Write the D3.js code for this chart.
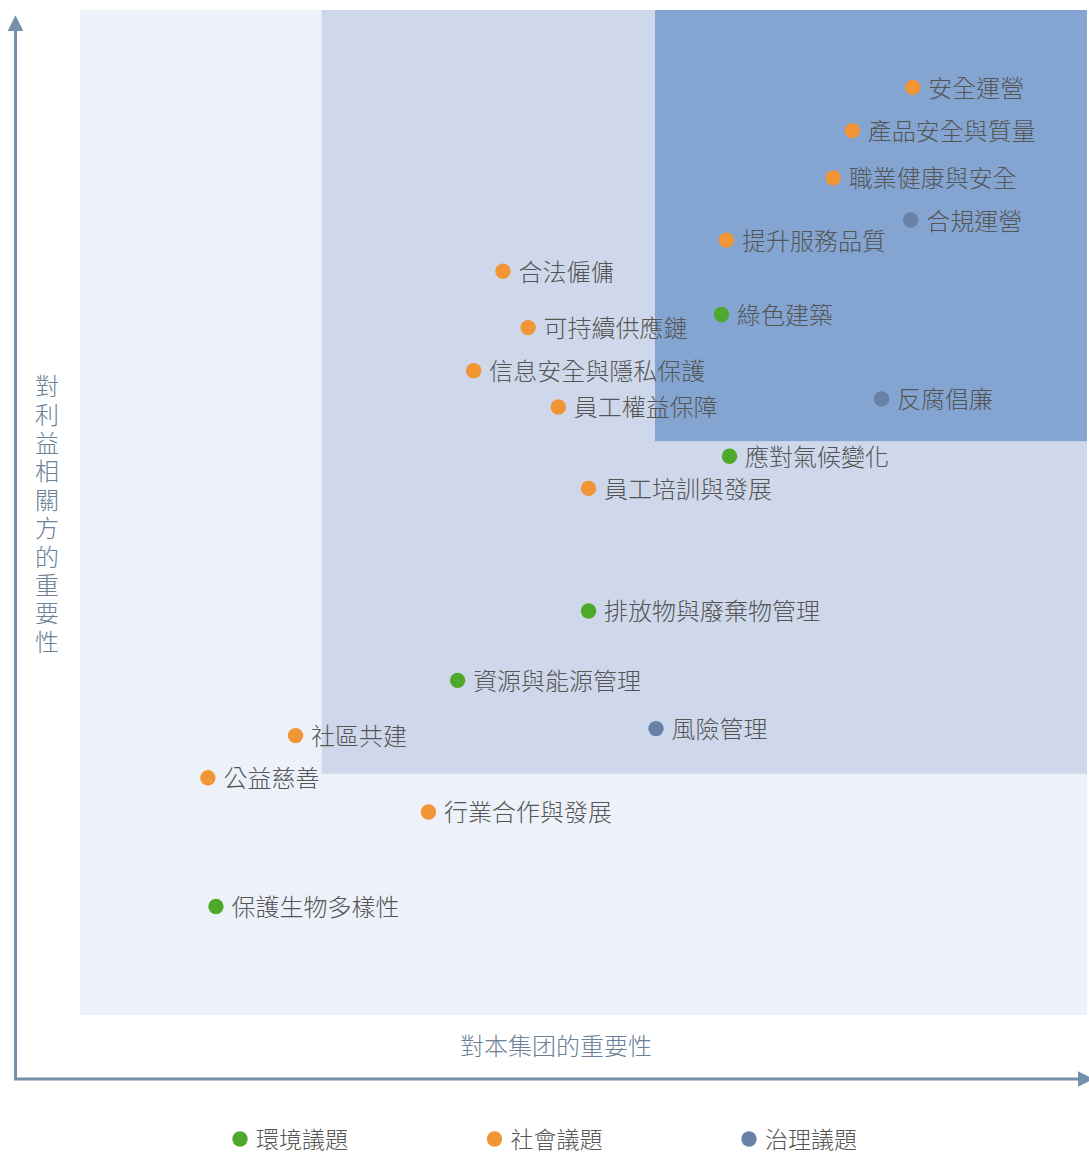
<!DOCTYPE html>
<html>
<head>
<meta charset="utf-8">
<script src="https://cdn.jsdelivr.net/npm/d3@7/dist/d3.min.js"></script>
<style>
  html, body { margin: 0; padding: 0; background: #ffffff; }
  svg { display: block; }
  text { font-family: "Noto Sans CJK TC", "Noto Sans CJK SC", sans-serif; font-weight: 300; }
</style>
</head>
<body>
<svg id="chart" width="1089" height="1154"></svg>
<script>
// ---- data ----
const issues = ["安全運營","產品安全與質量","職業健康與安全","合規運營","提升服務品質","合法僱傭","綠色建築","可持續供應鏈","信息安全與隱私保護","反腐倡廉","員工權益保障","應對氣候變化","員工培訓與發展","排放物與廢棄物管理","資源與能源管理","風險管理","社區共建","公益慈善","行業合作與發展","保護生物多樣性"];
const groupImportance = [82.7, 76.7, 74.8, 82.5, 64.2, 42.0, 63.7, 44.5, 39.1, 79.6, 47.5, 64.5, 50.5, 50.5, 37.5, 57.2, 21.4, 12.7, 34.6, 13.5];
const stakeholderImportance = [92.3, 88.0, 83.3, 79.1, 77.1, 74.0, 69.7, 68.4, 64.1, 61.3, 60.5, 55.6, 52.4, 40.2, 33.3, 28.5, 27.8, 23.6, 20.2, 10.8];
const issueCategory = ["社會","社會","社會","治理","社會","社會","環境","社會","社會","治理","社會","環境","社會","環境","環境","治理","社會","社會","社會","環境"];
const categories = ["環境","社會","治理"];
const legendLabels = ["環境議題","社會議題","治理議題"];
const zoneStart = [0, 24, 57.1];
const xTitle = "對本集团的重要性";
const yTitle = "對利益相關方的重要性";

// ---- styles ----
const catColor = d3.scaleOrdinal().domain(categories).range(["#4ea82b", "#f29535", "#6781a7"]);
const zoneColor = ["#edf2fa", "#cfd8eb", "#84a5d1"];
const axisColor = "#7590aa";
const fs = 24;

const svg = d3.select("#chart");
const x = d3.scaleLinear().domain([0, 100]).range([80, 1087]);
const y = d3.scaleLinear().domain([0, 100]).range([1015, 10]);

// zones
svg.append("g").selectAll("rect").data(zoneStart).join("rect")
  .attr("x", d => x(d)).attr("y", y(100))
  .attr("width", d => x(100) - x(d)).attr("height", d => y(d) - y(100))
  .attr("fill", (d, i) => zoneColor[i]);

// axes
const defs = svg.append("defs");
defs.append("marker").attr("id", "arr").attr("viewBox", "0 0 10 10")
  .attr("refX", 2).attr("refY", 5).attr("markerWidth", 5.3).attr("markerHeight", 5.3)
  .attr("markerUnits", "strokeWidth").attr("orient", "auto")
  .append("path").attr("d", "M0,0 L10,5 L0,10 Z").attr("fill", axisColor);

svg.append("line").attr("x1", 15.5).attr("y1", 1079).attr("x2", 15.5).attr("y2", 28)
  .attr("stroke", axisColor).attr("stroke-width", 3).attr("marker-end", "url(#arr)");
svg.append("line").attr("x1", 14).attr("y1", 1079).attr("x2", 1081).attr("y2", 1079)
  .attr("stroke", axisColor).attr("stroke-width", 3).attr("marker-end", "url(#arr)");

// axis titles
svg.append("text").attr("x", 556).attr("y", 1044)
  .attr("text-anchor", "middle").attr("dominant-baseline", "central")
  .attr("font-size", fs).attr("fill", "#6b8197").text(xTitle);
svg.append("text").attr("x", 47).attr("y", 516)
  .attr("text-anchor", "middle")
  .attr("font-size", fs).attr("fill", "#6b8197")
  .style("writing-mode", "vertical-rl").style("text-orientation", "upright")
  .style("letter-spacing", "4.4px")
  .text(yTitle);

// points
const pts = issues.map((n, i) => ({ name: n, gx: groupImportance[i], sy: stakeholderImportance[i], cat: issueCategory[i] }));
const g = svg.append("g").selectAll("g").data(pts).join("g")
  .attr("transform", d => `translate(${x(d.gx)},${y(d.sy)})`);
g.append("circle").attr("r", 7.7).attr("fill", d => catColor(d.cat));
g.append("text").attr("x", 15.5).attr("y", -1)
  .attr("dominant-baseline", "central").attr("font-size", fs).attr("fill", "#555555")
  .text(d => d.name);

// legend
const lg = svg.append("g").selectAll("g").data(categories).join("g")
  .attr("transform", (d, i) => `translate(${240 + i * 254.5},1139)`);
lg.append("circle").attr("r", 7.7).attr("fill", d => catColor(d));
lg.append("text").attr("x", 16).attr("y", -1.5).attr("dominant-baseline", "central")
  .attr("font-size", 23).attr("fill", "#555555").text((d, i) => legendLabels[i]);
</script>
</body>
</html>
